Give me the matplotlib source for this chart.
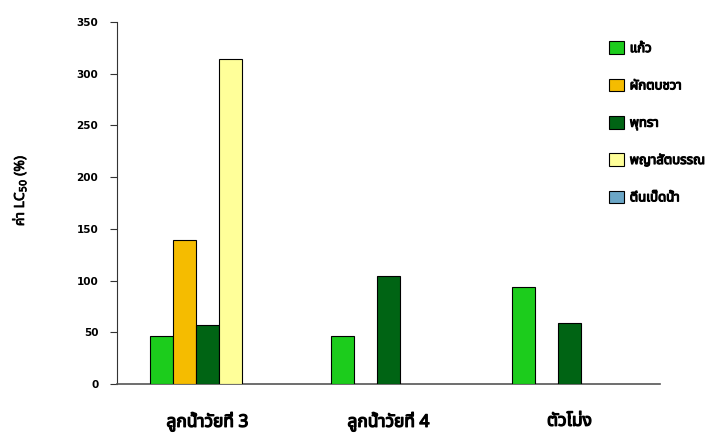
import numpy as np
import matplotlib
matplotlib.use("Agg")
import matplotlib.pyplot as plt
import matplotlib.patheffects as pe
from matplotlib import font_manager
from matplotlib.ft2font import FT2Font
from matplotlib.patches import Patch

# ---------------- data ----------------
categories = ["ลูกน้ำวัยที่ 3", "ลูกน้ำวัยที่ 4", "ตัวโม่ง"]
series_names = ["แก้ว", "ผักตบชวา", "พุทรา", "พญาสัตบรรณ", "ตีนเป็ดน้ำ"]
val_kaew = [46, 46.5, 94]
val_phaktop = [139, np.nan, np.nan]
val_phutsa = [57, 104, 59]
val_phaya = [314, np.nan, np.nan]
val_tinpet = [np.nan, np.nan, np.nan]
series_values = [val_kaew, val_phaktop, val_phutsa, val_phaya, val_tinpet]
y_ticks = [0, 50, 100, 150, 200, 250, 300, 350]
colors = ["#1ccc1c", "#f5bc00", "#006414", "#ffff99", "#6ba6c6"]

# ---------------- font with Thai glyphs ----------------
thai_font = None
cands = []
for f in font_manager.fontManager.ttflist:
    try:
        ft = FT2Font(f.fname)
        if ft.get_char_index(0x0E01) and ft.get_char_index(0x0E49):
            cands.append(f.name)
    except Exception:
        pass
pref = ["Noto Sans Thai", "Noto Sans Thai UI", "Loma", "Garuda", "Sarabun", "Tlwg Typo", "Norasi"]
for p in pref:
    if p in cands:
        thai_font = p
        break
if thai_font is None and cands:
    thai_font = cands[0]
fam = [thai_font, "DejaVu Sans"] if thai_font else ["DejaVu Sans"]
plt.rcParams["font.family"] = fam

heavy = [pe.withStroke(linewidth=0.9, foreground="black")]

# ---------------- figure ----------------
fig = plt.figure(figsize=(7.1, 4.38), dpi=100)
ax = fig.add_axes([117 / 710, 54 / 438, (660 - 117) / 710, (384 - 22) / 438])

x = np.arange(len(categories))
w = 0.127
for i, (name, vals, c) in enumerate(zip(series_names, series_values, colors)):
    ax.bar(x + (i - 2) * w, vals, width=w, color=c, edgecolor="black",
           linewidth=0.8, label=name, zorder=3)

ax.set_xlim(-0.5, 2.5)
ax.set_ylim(0, 350)
ax.set_yticks(y_ticks)
ax.set_yticklabels([str(t) for t in y_ticks], fontsize=7.5, fontweight="bold",
                   family=["DejaVu Sans"])
ax.tick_params(axis="y", length=5, width=0.8, pad=8.5, colors="#333333",
               labelcolor="black")
ax.set_xticks(x)
ax.set_xticklabels(categories, fontsize=12.5, fontweight="bold")
for t in ax.get_xticklabels():
    t.set_path_effects(heavy)
ax.tick_params(axis="x", length=0, pad=20)
for s in ["top", "right"]:
    ax.spines[s].set_visible(False)
ax.spines["left"].set_color("#333333")
ax.spines["bottom"].set_color("#555555")
ax.spines["bottom"].set_linewidth(1.2)

yl = ax.set_ylabel("ค่า LC$_{50}$ (%)", fontsize=10)
yl.set_path_effects([pe.withStroke(linewidth=0.5, foreground="black")])
ax.yaxis.set_label_coords(-0.162, 0.535)

handles = [Patch(facecolor=c, edgecolor="black", linewidth=0.8) for c in colors]
leg = fig.legend(handles, series_names, loc="upper left",
                 bbox_to_anchor=(604 / 710, (438 - 36) / 438), frameon=False,
                 prop={"size": 9.5, "weight": "bold", "family": fam},
                 handlelength=1.1, handleheight=1.1, handletextpad=0.45,
                 labelspacing=1.78, borderaxespad=0)
for t in leg.get_texts():
    t.set_path_effects([pe.withStroke(linewidth=0.8, foreground="black")])

fig.savefig("out.png", dpi=100)
